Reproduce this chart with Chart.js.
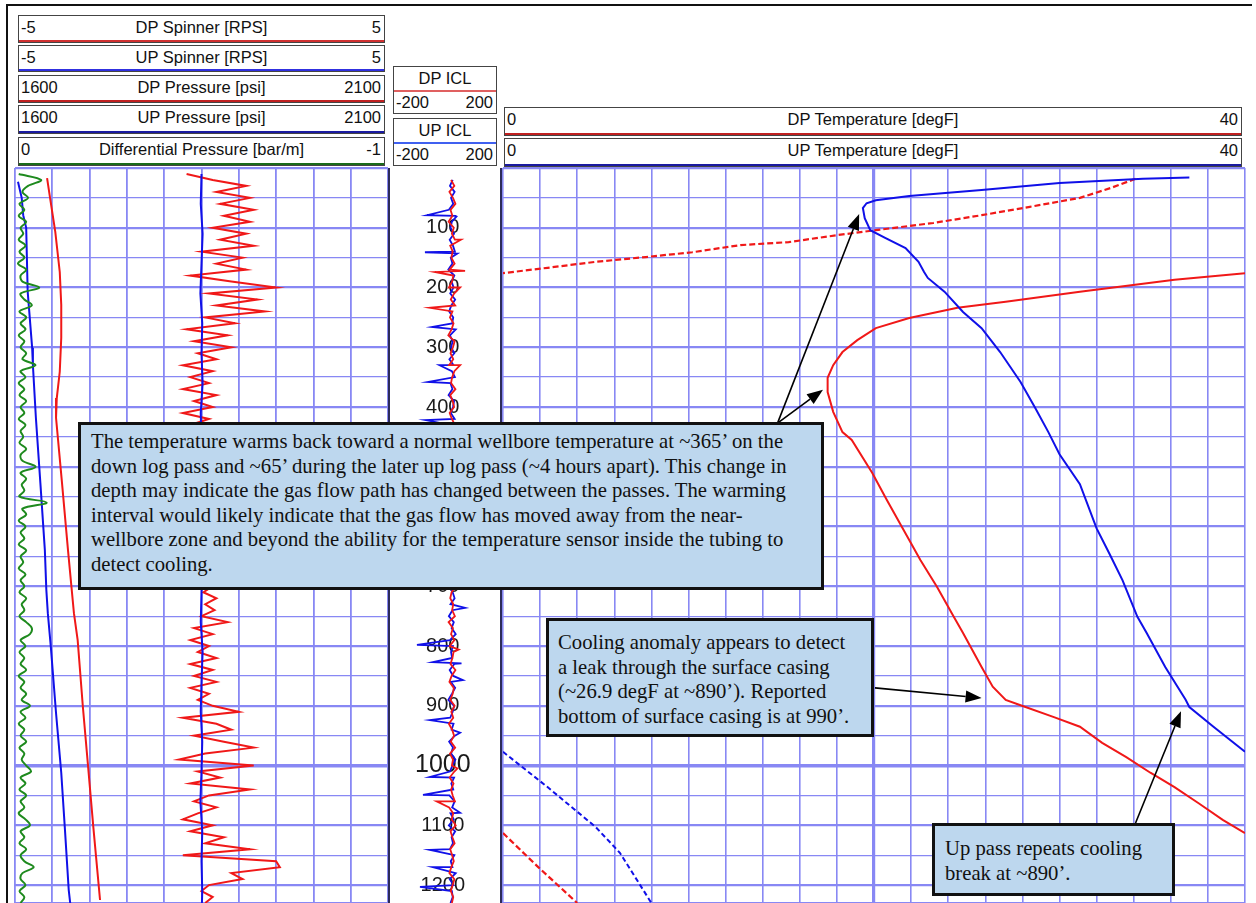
<!DOCTYPE html>
<html>
<head>
<meta charset="utf-8">
<script src="https://cdn.jsdelivr.net/npm/chart.js@4.4.1/dist/chart.umd.min.js"></script>
<style>
body{margin:0;width:1256px;height:903px;overflow:hidden;background:#fff;position:relative;font-family:"Liberation Sans",Arial,sans-serif}
canvas{position:absolute}
.hdr{position:absolute;box-sizing:border-box;border:1.5px solid #444;background:#fff;font-size:16.5px;line-height:19px;color:#111}
.hdr span{position:absolute;top:2px}
.hdr .l{left:2px}
.hdr .r{right:3px}
.hdr .c{left:0;right:0;text-align:center}
.hdr i{position:absolute;left:0;right:0;bottom:0;height:2px}
.line{position:absolute;background:#111}
.note{position:absolute;box-sizing:border-box;border:3px solid #111;background:#bdd7ee;font-family:"Liberation Serif","Times New Roman",serif;font-size:20.7px;line-height:24.5px;color:#111;white-space:nowrap}
</style>
</head>
<body>
<div class="line" style="left:6px;top:4px;width:1246px;height:2px"></div>
<div class="line" style="left:6px;top:4px;width:2px;height:899px"></div>

<div class="hdr" style="left:18px;top:15px;width:367px;height:28px"><span class="l">-5</span><span class="c">DP Spinner [RPS]</span><span class="r">5</span><i style="background:#d03030"></i></div>
<div class="hdr" style="left:18px;top:45px;width:367px;height:27px"><span class="l">-5</span><span class="c">UP Spinner [RPS]</span><span class="r">5</span><i style="background:#3030e0"></i></div>
<div class="hdr" style="left:18px;top:75px;width:367px;height:28px"><span class="l">1600</span><span class="c">DP Pressure [psi]</span><span class="r">2100</span><i style="background:#c02020"></i></div>
<div class="hdr" style="left:18px;top:105px;width:367px;height:29px"><span class="l">1600</span><span class="c">UP Pressure [psi]</span><span class="r">2100</span><i style="background:#1a1aa0"></i></div>
<div class="hdr" style="left:18px;top:137px;width:367px;height:29px"><span class="l">0</span><span class="c">Differential Pressure [bar/m]</span><span class="r">-1</span><i style="background:#1a6a1a"></i></div>

<div class="hdr" style="left:393px;top:66px;width:104px;height:48px"><span class="c">DP ICL</span><i style="top:23px;bottom:auto;background:#e06060"></i><span class="l" style="top:26px">-200</span><span class="r" style="top:26px">200</span></div>
<div class="hdr" style="left:393px;top:118px;width:104px;height:48px"><span class="c">UP ICL</span><i style="top:23px;bottom:auto;background:#4060f0"></i><span class="l" style="top:26px">-200</span><span class="r" style="top:26px">200</span></div>

<div class="hdr" style="left:504px;top:107px;width:738px;height:29px"><span class="l">0</span><span class="c">DP Temperature [degF]</span><span class="r">40</span><i style="background:#c02020"></i></div>
<div class="hdr" style="left:504px;top:138px;width:738px;height:29px"><span class="l">0</span><span class="c">UP Temperature [degF]</span><span class="r">40</span><i style="background:#1a1aa0"></i></div>

<canvas id="track1" width="379" height="741" style="left:12px;top:165px"></canvas>
<canvas id="track2" width="110" height="741" style="left:390px;top:165px"></canvas>
<canvas id="track3" width="748" height="741" style="left:500px;top:165px"></canvas>

<div class="line" style="left:388px;top:168px;width:2px;height:735px;background:#2b2b5a"></div>
<div class="line" style="left:500px;top:168px;width:2px;height:735px;background:#2b2b5a"></div>

<div class="note" style="left:78px;top:422px;width:746px;height:168px;padding:4px 10px">The temperature warms back toward a normal wellbore temperature at ~365’ on the<br>down log pass and ~65’ during the later up log pass (~4 hours apart). This change in<br>depth may indicate the gas flow path has changed between the passes. The warming<br>interval would likely indicate that the gas flow has moved away from the near-<br>wellbore zone and beyond the ability for the temperature sensor inside the tubing to<br>detect cooling.</div>
<div class="note" style="left:546px;top:618px;width:328px;height:119px;padding:9px 9px">Cooling anomaly appears to detect<br>a leak through the surface casing<br>(~26.9 degF at ~890’). Reported<br>bottom of surface casing is at 990’.</div>
<div class="note" style="left:932px;top:823px;width:243px;height:73px;padding:10px 10px">Up pass repeats cooling<br>break at ~890’.</div>

<script>
// depth axis
var DEPTH_MIN = 0
var DEPTH_MAX = 1230
var DEPTH_LABELS = [100, 200, 300, 400, 500, 600, 700, 800, 900, 1000, 1100, 1200]

// track 1 curves sampled every 10 ft starting at 10 ft
var SAMPLE_START = 10
var SAMPLE_STEP = 10
var DP_SPINNER = [
  -0.4, 0.3, 1.2, 0.4, 1.3, 0.5, 1.4, 0.6, 1.3, 0.3,
  1.2, 0.5, 1.4, 0.0, 1.1, 0.4, 1.2, -0.3, 0.8, 2.0,
  0.2, 1.5, 0.4, 1.7, 0.1, 0.9, -0.4, 0.7, -0.2, 0.8,
  -0.1, 0.4, -0.5, 0.3, -0.3, 0.2, -0.5, 0.4, -0.2, 0.3,
  -0.5, 0.2, -0.3, 0.4, -0.2, 0.5, -0.4, 0.3, -0.1, 0.6,
  -0.3, 0.2, -0.4, 0.4, -0.2, 0.3, -0.5, 0.2, -0.1, 0.5,
  -0.3, 0.3, -0.2, 0.4, -0.1, 0.3, 0.0, 0.4, 0.1, 0.3,
  0.05, 0.4, 0.1, 0.35, 0.0, 0.7, -0.2, 0.3, -0.3, 0.2,
  -0.1, 0.4, -0.3, 0.3, -0.2, 0.4, -0.3, 0.2, -0.1, 0.3,
  1.0, -0.5, 0.4, 0.8, -0.2, 0.6, 1.4, 0.1, -0.6, 1.4,
  -0.1, 0.5, -0.3, 1.3, 0.2, -0.2, 0.4, -0.1, -0.5, 0.3,
  -0.3, 0.6, 0.1, 1.3, -0.5, 2.0, 2.1, 0.8, 1.1, 0.2,
  0.0, 0.3, 0.1
]
var DIFF_PRESSURE = [
  -0.01, -0.07, -0.035, -0.02, -0.035, -0.012, -0.025, -0.01, -0.03, -0.015,
  -0.022, -0.01, -0.028, -0.012, -0.025, -0.008, -0.03, -0.015, -0.02, -0.065,
  -0.015, -0.025, -0.045, -0.012, -0.03, -0.015, -0.028, -0.01, -0.025, -0.015,
  -0.03, -0.02, -0.055, -0.015, -0.028, -0.01, -0.025, -0.012, -0.03, -0.015,
  -0.025, -0.01, -0.028, -0.015, -0.022, -0.012, -0.03, -0.015, -0.02, -0.055,
  -0.015, -0.03, -0.018, -0.025, -0.012, -0.085, -0.02, -0.03, -0.01, -0.028,
  -0.015, -0.025, -0.01, -0.03, -0.015, -0.022, -0.01, -0.028, -0.015, -0.025,
  -0.012, -0.03, -0.018, -0.025, -0.012, -0.03, -0.045, -0.04, -0.015, -0.028,
  -0.012, -0.025, -0.015, -0.03, -0.01, -0.025, -0.015, -0.03, -0.018, -0.04,
  -0.015, -0.028, -0.01, -0.025, -0.015, -0.03, -0.012, -0.025, -0.018, -0.03,
  -0.043, -0.015, -0.028, -0.012, -0.03, -0.015, -0.025, -0.01, -0.028, -0.04,
  -0.015, -0.025, -0.012, -0.03, -0.015, -0.025, -0.05, -0.02, -0.015, -0.028,
  -0.012, -0.025, -0.015
]
// up spinner every 50 ft from 10 ft
var UP_SPINNER_STEP = 50
var UP_SPINNER = [0, -0.02, 0.03, 0, -0.03, 0.02, 0, 0.03, -0.02, 0, 0.02, -0.03, 0,
  0.02, 0, -0.02, 0.03, 0, -0.02, 0.02, 0, -0.03, 0.02, 0, 0.02, 0]

var UP_P_DEPTH = [23, 50, 79, 100, 207, 301, 330, 418, 527, 639, 706, 745, 801, 912, 1012, 1108, 1208, 1230]
var UP_P = [1604, 1609, 1611, 1615, 1617, 1623, 1624, 1628, 1634, 1640, 1642, 1644, 1648, 1655, 1662, 1667, 1672, 1674]
var DP_P_DEPTH = [17, 50, 107, 174, 229, 284, 341, 385, 418, 527, 639, 745, 790, 902, 1002, 1103, 1225]
var DP_P = [1643, 1647, 1654, 1660, 1662, 1662, 1660, 1656, 1655, 1663, 1671, 1679, 1684, 1691, 1698, 1705, 1714]

// ICL, every 10 ft from 20 ft, plus collar spikes [depth, value]
var ICL_START = 20
var UP_ICL = [
  28, 18, 35, 22, 30, 14, 38, 25, 20, 33,
  17, 29, 36, 21, 27, 12, 34, 24, 31, 19,
  37, 23, 15, 30, 26, 39, 18, 28, 22, 34,
  16, 31, 25, 36, 20, 27, 13, 33, 29, 21,
  35, 19, 26, 32, 17, 38, 24, 14, 30, 27,
  22, 36, 18, 29, 33, 15, 27, 37, 21, 25,
  31, 13, 34, 26, 19, 38, 23, 30, 16, 28,
  35, 20, 27, 14, 32, 24, 39, 18, 29, 22,
  26, 34, 17, 30, 21, 37, 25, 12, 33, 28,
  19, 31, 24, 36, 15, 29, 22, 38, 27, 18,
  33, 23, 30, 16, 35, 26, 20, 32, 14, 37,
  24, 29, 18, 34, 21, 27, 39, 17, 31, 25,
  28, 20
]
var UP_ICL_SPIKES = [[79, -65], [81, 42], [141, -73], [143, 45], [266, -47], [330, -20], [358, -62],
  [422, -70], [736, 73], [798, -102], [827, -44], [829, 60], [857, 65], [924, -55], [945, 55],
  [1019, -55], [1049, -80], [1079, 55], [1141, -55], [1170, -44], [1203, -91]]
var DP_ICL = [
  22, 34, 16, 29, 38, 20, 27, 13, 32, 25,
  36, 19, 28, 23, 35, 17, 30, 26, 14, 33,
  21, 37, 27, 18, 31, 24, 12, 35, 29, 20,
  30, 15, 34, 26, 22, 38, 19, 28, 33, 17,
  25, 36, 21, 13, 31, 27, 35, 18, 24, 30,
  16, 29, 34, 22, 27, 37, 20, 31, 14, 26,
  35, 23, 18, 32, 28, 15, 33, 21, 37, 24,
  19, 30, 26, 36, 13, 29, 22, 34, 17, 31,
  27, 20, 38, 24, 16, 32, 28, 19, 35, 23,
  30, 14, 26, 33, 21, 37, 18, 29, 25, 34,
  17, 31, 22, 28, 36, 15, 30, 24, 39, 20,
  27, 35, 19, 26, 32, 23, 16, 34, 28, 21,
  30, 25
]
var DP_ICL_SPIKES = [[120, 58], [172, 73], [174, -36], [200, 55], [234, -55], [330, 55], [806, 50], [1005, 45], [1060, -30]]

var UP_T_DEPTH = [16, 18, 25, 37, 47, 54, 59, 67, 84, 104, 117, 134, 157, 174, 184, 207, 241, 268, 308, 358,
  402, 442, 479, 529, 603, 646, 690, 751, 778, 835, 890, 902, 935, 977, 1036, 1103, 1146, 1230]
var UP_T = [37.0, 34.5, 30.0, 25.8, 21.9, 20.1, 19.6, 19.4, 19.5, 19.8, 20.6, 21.7, 22.4, 22.7, 22.9, 23.8, 24.8, 25.8, 26.8, 27.9,
  28.7, 29.4, 30.0, 31.1, 32.0, 32.7, 33.4, 34.2, 34.7, 35.7, 36.8, 37.0, 38.3, 40.0, 42.4, 45.0, 46.3, 48.0]
var DP_T_DEPTH = [18, 33, 50, 65, 79, 92, 104, 112, 124, 129, 141, 149, 157, 167, 176, 187, 207, 224, 234, 251,
  268, 288, 308, 330, 351, 375, 408, 442, 455, 510, 556, 617, 656, 701, 751, 778, 835, 868, 890, 899,
  919, 935, 962, 986, 1012, 1036, 1063, 1091, 1113, 1170, 1230]
var DP_T = [74.1, 72.8, 71.1, 68.4, 65.8, 63.2, 60.1, 58.1, 55.4, 52.8, 50.2, 47.7, 45.0, 42.4, 40.0, 36.2, 31.1, 27.1, 24.5, 21.9,
  20.1, 19.1, 18.3, 17.8, 17.5, 17.5, 17.8, 18.3, 18.8, 19.9, 20.7, 21.8, 22.5, 23.4, 24.3, 24.8, 25.8, 26.4, 27.1, 27.9,
  29.7, 31.1, 32.3, 33.6, 34.9, 36.2, 37.5, 38.8, 40.0, 41.9, 44.0]
var T_MAX = 40

// annotation arrows [tempFrom, depthFrom, tempTo, depthTo]
var ARROWS = [[14.8, 427, 19.2, 77], [14.8, 427, 17.25, 371], [20.05, 870, 25.8, 887], [34.1, 1096, 36.55, 909]]

var RED = "#f01818"
var BLUE = "#1010e8"
var GREEN = "#1e8a1e"
var GRID = "#8888f4"

function sampled(values, start, step) {
  return values.map(function (v, i) { return { x: v, y: start + i * step } })
}
function paired(depths, values) {
  return depths.map(function (d, i) { return { x: values[i], y: d } })
}
function withSpikes(values, spikes) {
  var pts = sampled(values, ICL_START, SAMPLE_STEP)
  spikes.forEach(function (s) { pts.push({ x: s[1], y: s[0] }) })
  return pts.sort(function (a, b) { return a.y - b.y })
}
function mainPart(depths, temps) {
  return depths.map(function (d, i) { return { x: temps[i] <= T_MAX ? temps[i] : null, y: d } })
}
function wrapPart(depths, temps) {
  return depths.map(function (d, i) { return { x: temps[i] >= T_MAX ? temps[i] - T_MAX : null, y: d } })
}

function depthAxis() {
  return {
    type: 'linear', min: DEPTH_MIN, max: DEPTH_MAX, reverse: true,
    ticks: { display: false, stepSize: 50 },
    border: { display: false },
    grid: {
      color: GRID, drawTicks: false,
      lineWidth: function (c) {
        var v = c.tick.value
        if (v === 1000) return 3.5
        return v % 100 === 0 ? 2.2 : 1.3
      }
    }
  }
}

var base = {
  responsive: false, animation: false, events: [], indexAxis: 'y',
  devicePixelRatio: 1,
  layout: { padding: 3 },
  plugins: { legend: { display: false }, tooltip: { enabled: false } },
  elements: { point: { radius: 0 }, line: { tension: 0 } }
}

new Chart(document.getElementById("track1"), {
  type: 'line',
  data: {
    datasets: [
      { data: sampled(DIFF_PRESSURE, SAMPLE_START, SAMPLE_STEP), xAxisID: 'xd', borderColor: GREEN, borderWidth: 2, tension: 0.35 },
      { data: sampled(UP_SPINNER, SAMPLE_START, UP_SPINNER_STEP), xAxisID: 'x', borderColor: BLUE, borderWidth: 2 },
      { data: sampled(DP_SPINNER, SAMPLE_START, SAMPLE_STEP), xAxisID: 'x', borderColor: RED, borderWidth: 2 },
      { data: paired(UP_P_DEPTH, UP_P), xAxisID: 'xp', borderColor: BLUE, borderWidth: 2 },
      { data: paired(DP_P_DEPTH, DP_P), xAxisID: 'xp', borderColor: RED, borderWidth: 2 }
    ]
  },
  options: Object.assign({}, base, {
    scales: {
      x: { type: 'linear', min: -5, max: 5, ticks: { display: false, stepSize: 1 }, border: { display: false },
        grid: { color: GRID, lineWidth: 1.8, drawTicks: false } },
      xp: { type: 'linear', min: 1600, max: 2100, display: false },
      xd: { type: 'linear', min: -1, max: 0, reverse: true, display: false },
      y: depthAxis()
    }
  })
})

var depthLabels = {
  id: 'depthLabels',
  beforeDatasetsDraw: function (chart) {
    var ctx = chart.ctx, y = chart.scales.y, cx = chart.scales.x.getPixelForValue(-8)
    ctx.save()
    ctx.fillStyle = "#1a1a1a"
    ctx.textAlign = 'center'
    ctx.textBaseline = 'middle'
    DEPTH_LABELS.forEach(function (d) {
      ctx.font = d === 1000 ? '25px "Liberation Sans", Arial' : '20px "Liberation Sans", Arial'
      ctx.fillText(String(d), cx, y.getPixelForValue(d))
    })
    ctx.restore()
  }
}

new Chart(document.getElementById("track2"), {
  type: 'line',
  data: {
    datasets: [
      { data: withSpikes(DP_ICL, DP_ICL_SPIKES), borderColor: RED, borderWidth: 1.8 },
      { data: withSpikes(UP_ICL, UP_ICL_SPIKES), borderColor: BLUE, borderWidth: 1.8 }
    ]
  },
  options: Object.assign({}, base, {
    layout: { padding: { left: 0, right: 0, top: 3, bottom: 3 } },
    scales: {
      x: { type: 'linear', min: -200, max: 200, display: false },
      y: { type: 'linear', min: DEPTH_MIN, max: DEPTH_MAX, reverse: true, display: false }
    }
  }),
  plugins: [depthLabels]
})

var arrows = {
  id: 'arrows',
  afterDatasetsDraw: function (chart) {
    var ctx = chart.ctx, xs = chart.scales.x, ys = chart.scales.y
    ctx.save()
    ctx.strokeStyle = "#000"
    ctx.fillStyle = "#000"
    ctx.lineWidth = 1.6
    ARROWS.forEach(function (a) {
      var x0 = xs.getPixelForValue(a[0]), y0 = ys.getPixelForValue(a[1])
      var x1 = xs.getPixelForValue(a[2]), y1 = ys.getPixelForValue(a[3])
      var ang = Math.atan2(y1 - y0, x1 - x0), L = 16, W = 6
      var bx = x1 - L * Math.cos(ang), by = y1 - L * Math.sin(ang)
      ctx.beginPath()
      ctx.moveTo(x0, y0)
      ctx.lineTo(bx, by)
      ctx.stroke()
      ctx.beginPath()
      ctx.moveTo(x1, y1)
      ctx.lineTo(bx - W * Math.sin(ang), by + W * Math.cos(ang))
      ctx.lineTo(bx + W * Math.sin(ang), by - W * Math.cos(ang))
      ctx.closePath()
      ctx.fill()
    })
    ctx.restore()
  }
}

new Chart(document.getElementById("track3"), {
  type: 'line',
  data: {
    datasets: [
      { data: mainPart(UP_T_DEPTH, UP_T), borderColor: BLUE, borderWidth: 2 },
      { data: wrapPart(UP_T_DEPTH, UP_T), borderColor: BLUE, borderWidth: 2, borderDash: [5, 3] },
      { data: mainPart(DP_T_DEPTH, DP_T), borderColor: RED, borderWidth: 2 },
      { data: wrapPart(DP_T_DEPTH, DP_T), borderColor: RED, borderWidth: 2.2, borderDash: [6, 3] }
    ]
  },
  options: Object.assign({}, base, {
    scales: {
      x: { type: 'linear', min: 0, max: T_MAX, ticks: { display: false, stepSize: 2 }, border: { display: false },
        grid: { color: GRID, drawTicks: false, lineWidth: function (c) { return c.tick.value === 20 ? 3.2 : 1.6 } } },
      y: depthAxis()
    }
  }),
  plugins: [arrows]
})
</script>
</body>
</html>
